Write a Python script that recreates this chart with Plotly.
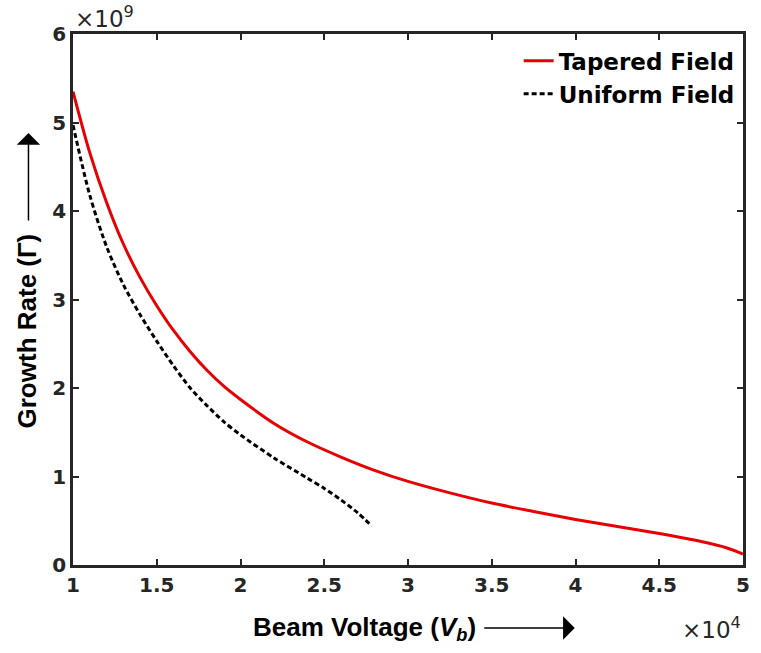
import plotly.graph_objects as go

# Beam voltage (x 1e4 V) and growth rate (x 1e9)
tapered_v = [1.0, 1.1, 1.2, 1.3, 1.4, 1.5, 1.6, 1.7, 1.8, 1.9, 2.0, 2.2, 2.4, 2.6, 2.8, 3.0,
             3.25, 3.5, 3.75, 4.0, 4.25, 4.5, 4.75, 4.9, 5.0]
tapered_g = [5.35, 4.66, 4.10, 3.63, 3.25, 2.93, 2.65, 2.41, 2.20, 2.02, 1.87, 1.60, 1.39, 1.22, 1.07, 0.945,
             0.815, 0.70, 0.605, 0.515, 0.435, 0.355, 0.265, 0.195, 0.124]

uniform_v = [1.0, 1.1, 1.2, 1.3, 1.4, 1.5, 1.6, 1.7, 1.8, 1.9, 2.0, 2.2, 2.4, 2.5, 2.6, 2.7, 2.784]
uniform_g = [4.97, 4.18, 3.60, 3.17, 2.83, 2.53, 2.25, 2.00, 1.80, 1.62, 1.47, 1.21, 0.98, 0.865, 0.735, 0.59, 0.44]

x_ticks = [1, 1.5, 2, 2.5, 3, 3.5, 4, 4.5, 5]
y_ticks = [0, 1, 2, 3, 4, 5, 6]

FONT = "Liberation Sans, Arial, sans-serif"
WIDE = "DejaVu Sans, sans-serif"
AX = "#262626"

fig = go.Figure()
fig.add_trace(go.Scatter(x=tapered_v, y=tapered_g, mode="lines", name="<b>Tapered Field</b>",
                         line=dict(color="#e60000", width=3, shape="spline", smoothing=0.8)))
fig.add_trace(go.Scatter(x=uniform_v, y=uniform_g, mode="lines", name="<b>Uniform Field</b>",
                         line=dict(color="black", width=3, dash="5px,3px", shape="spline", smoothing=0.8)))

axis_common = dict(showgrid=False, zeroline=False, showline=True, linecolor=AX, linewidth=2.5,
                   mirror="ticks", ticks="inside", ticklen=6, tickwidth=2, tickcolor=AX,
                   tickfont=dict(family=WIDE, size=20, color=AX, weight="bold"))

fig.update_xaxes(range=[1, 5], tickvals=x_ticks, **axis_common)
fig.update_yaxes(range=[0, 6], tickvals=y_ticks, **axis_common)

W, H = 761, 653
L, R, T, B = 73, 11, 34, 88
pw, ph = W - L - R, H - T - B

def px(xp):
    return (xp - L) / pw

def py(yp):
    return (H - B - yp) / ph

ann = [
    dict(text="Beam Voltage (<i>V<sub>b</sub></i>)", x=px(368), y=py(628), xref="paper", yref="paper",
         xanchor="center", yanchor="middle", showarrow=False,
         font=dict(family=FONT, size=26, color="black", weight="bold")),
    dict(text="", x=px(580), y=py(628), xref="paper", yref="paper", showarrow=True,
         ax=-92, ay=0, arrowhead=1, arrowsize=2.6, arrowwidth=1.5, arrowcolor="black"),
    dict(text="Growth Rate (Γ)", x=px(27), y=py(331), xref="paper", yref="paper",
         xanchor="center", yanchor="middle", textangle=-90, showarrow=False,
         font=dict(family=FONT, size=26, color="black", weight="bold")),
    dict(text="", x=px(28), y=py(133), xref="paper", yref="paper", showarrow=True,
         ax=0, ay=89, arrowhead=1, arrowsize=2.6, arrowwidth=1.5, arrowcolor="black"),
    dict(text="×10<sup>9</sup>", x=0, y=py(17), xref="paper", yref="paper",
         xanchor="left", yanchor="middle", showarrow=False,
         font=dict(family=WIDE, size=23, color=AX)),
    dict(text="×10<sup>4</sup>", x=1, y=py(628), xref="paper", yref="paper",
         xanchor="right", yanchor="middle", showarrow=False,
         font=dict(family=WIDE, size=23, color=AX)),
]

fig.update_layout(
    width=W, height=H,
    margin=dict(l=L, r=R, t=T, b=B),
    paper_bgcolor="white", plot_bgcolor="white",
    showlegend=True,
    legend=dict(x=0.995, y=0.99, xanchor="right", yanchor="top", bgcolor="rgba(0,0,0,0)",
                font=dict(family=WIDE, size=23, color="black"), tracegroupgap=0),
    annotations=ann,
)

fig.write_html("out.html")
